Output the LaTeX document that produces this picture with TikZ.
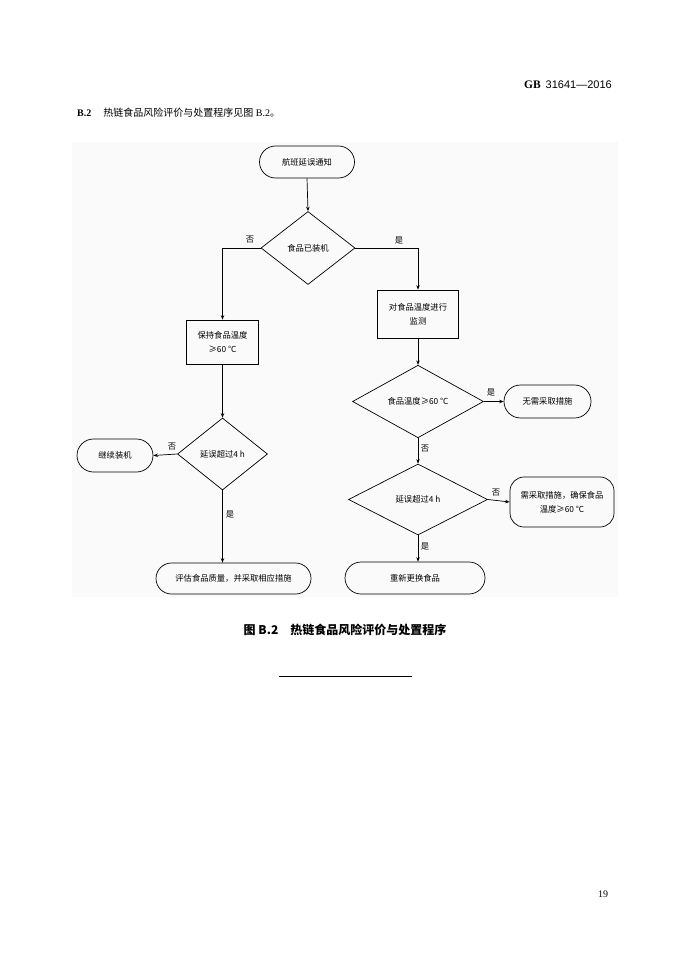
\documentclass[tikz,border=0pt]{standalone}
\usepackage{fontspec}
\setmainfont{Liberation Serif}
\newfontfamily\cjk{Noto Sans CJK SC}
\newfontfamily\numsans{Liberation Sans}
\usetikzlibrary{shapes.geometric,shapes.misc,arrows.meta}
\definecolor{bgpanel}{HTML}{FAFAFA}
\begin{document}
\begin{tikzpicture}[x=1pt,y=-1pt,
  every node/.style={font=\cjk\fontsize{8.3}{14}\selectfont},
  line/.style={line width=0.7pt, draw=black},
  arr/.style={line, -{Stealth[length=4.5pt,width=3.5pt]}},
  term/.style={draw, line width=0.7pt, rounded rectangle, inner sep=1pt, align=center},
  boxnode/.style={draw, line width=0.7pt, rectangle, inner sep=1pt, align=center},
  roundbox/.style={draw, line width=0.7pt, rectangle, rounded corners=14pt, inner sep=1pt, align=center},
  decision/.style={draw, line width=0.7pt, diamond, inner sep=1pt, align=center},
  lbl/.style={inner sep=0pt, font=\cjk\fontsize{8.3}{9}\selectfont}
]
\useasboundingbox (0,0) rectangle (690,976);
\fill[white] (0,0) rectangle (690,976);
\fill[bgpanel] (72,142) rectangle (618,597);

% header
\node[anchor=east, inner sep=0pt, font=\rmfamily\fontsize{11.5}{13}\selectfont] (hdr) at (612,85)
  {\textbf{GB}\hspace{5pt}{\fontsize{11}{13}\selectfont\numsans 31641—2016}};
\node[anchor=west, inner sep=0pt, font=\rmfamily\fontsize{10}{12}\selectfont] (sec) at (77,113)
  {\textbf{B.2}\hspace{12pt}{\cjk 热链食品风险评价与处置程序见图} B.2{\cjk 。}};

% nodes
\node[term, minimum width=97pt, minimum height=32pt] (t1) at (307,162) {航班延误通知};
\node[decision, minimum width=94pt, minimum height=73pt] (d1) at (308,248) {食品已装机};
\node[boxnode, minimum width=72pt, minimum height=44pt] (b1) at (222.5,342) {保持食品温度\\≥60 ℃};
\node[boxnode, minimum width=81pt, minimum height=48pt] (b2) at (418,314) {对食品温度进行\\监测};
\node[decision, minimum width=131pt, minimum height=71pt] (d2) at (418,401.5) {食品温度≥60 ℃};
\node[term, minimum width=89pt, minimum height=33pt] (t2) at (547.5,401.5) {无需采取措施};
\node[decision, minimum width=139pt, minimum height=71pt] (d3) at (418,499.5) {延误超过4 h};
\node[roundbox, minimum width=104pt, minimum height=50pt] (t3) at (562,502) {需采取措施，确保食品\\温度≥60 ℃};
\node[term, minimum width=142pt, minimum height=32pt] (t4) at (415,578) {重新更换食品};
\node[decision, minimum width=90pt, minimum height=72pt] (d4) at (222.5,454) {延误超过4 h};
\node[term, minimum width=78pt, minimum height=33pt] (t5) at (115,455.5) {继续装机};
\node[term, minimum width=157pt, minimum height=31pt] (t6) at (233.5,578.5) {评估食品质量，并采取相应措施};

% connectors
\draw[arr] (t1.south) -- (d1.north);
\draw[arr] (d1.west) -| (b1.north);
\draw[arr] (d1.east) -| (b2.north);
\draw[arr] (b1.south) -- (d4.north);
\draw[arr] (b2.south) -- (d2.north);
\draw[arr] (d2.east) -- (t2.west);
\draw[arr] (d2.south) -- (d3.north);
\draw[arr] (d3.east) -- (t3.west);
\draw[arr] (d3.south) -- (d3.south |- t4.north);
\draw[arr] (d4.west) -- (t5.east);
\draw[arr] (d4.south) -- (d4.south |- t6.north);

% labels
\node[lbl] (l1) at (250,240) {否};
\node[lbl] (l2) at (399,241) {是};
\node[lbl] (l3) at (491,393) {是};
\node[lbl] (l4) at (425,449) {否};
\node[lbl] (l5) at (496,493) {否};
\node[lbl] (l6) at (425,547) {是};
\node[lbl] (l7) at (172,447) {否};
\node[lbl] (l8) at (230,515) {是};

% caption
\node[inner sep=0pt, font=\cjk\bfseries\fontsize{12}{14}\selectfont] (cap) at (345,630)
  {图 B.2\hspace{12pt}热链食品风险评价与处置程序};
\coordinate (r1) at (279,676);
\coordinate (r2) at (412,676);
\draw[line width=0.8pt] (r1) -- (r2);

% page number
\node[inner sep=0pt, font=\rmfamily\fontsize{10}{12}\selectfont] (pg) at (603,894) {19};
\end{tikzpicture}
\end{document}
